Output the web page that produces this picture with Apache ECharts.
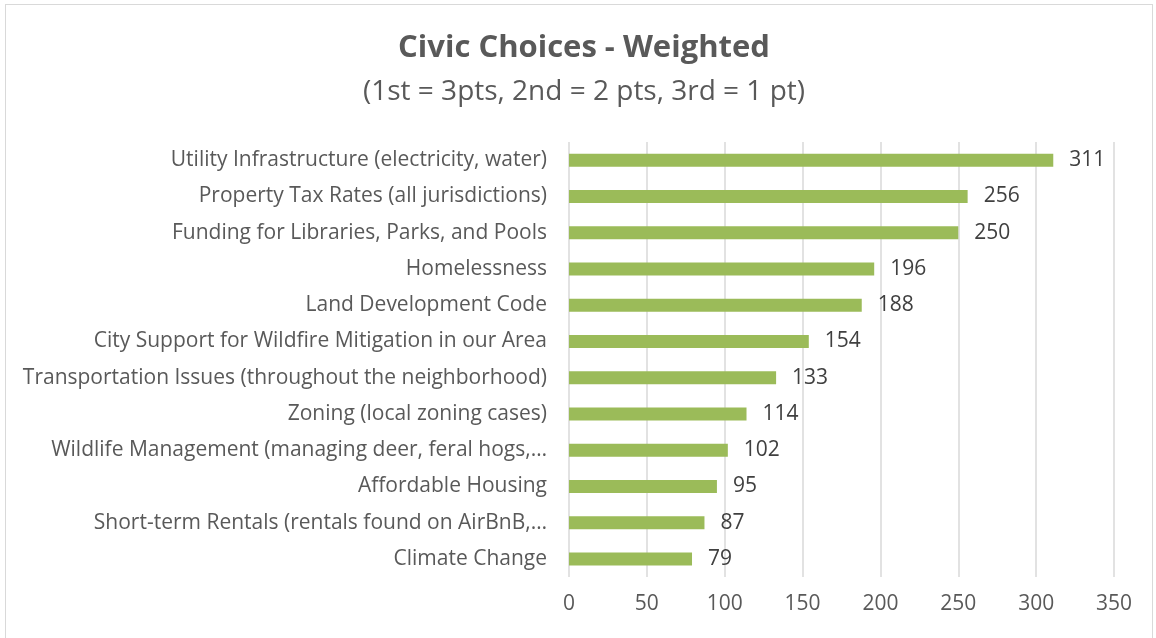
<!DOCTYPE html>
<html lang="en">
<head>
    <meta charset="UTF-8">
    <title>Civic Choices - Weighted</title>
    <script src="https://cdn.jsdelivr.net/npm/echarts@6/dist/echarts.min.js"></script>
    <style>
        html, body { margin: 0; padding: 0; background: #fff; }
        #frame {
            position: absolute;
            left: 5px; top: 4px;
            width: 1148px; height: 640px;
            border: 1px solid #d9d9d9;
            box-sizing: border-box;
        }
        #chart { width: 1156px; height: 638px; position: absolute; left: 0; top: 0; }
    </style>
</head>
<body>
<div id="frame"></div>
<div id="chart"></div>
<script>
    // categories, top to bottom as in the picture
    var categories = [
        'Utility Infrastructure (electricity, water)',
        'Property Tax Rates (all jurisdictions)',
        'Funding for Libraries, Parks, and Pools',
        'Homelessness',
        'Land Development Code',
        'City Support for Wildfire Mitigation in our Area',
        'Transportation Issues (throughout the neighborhood)',
        'Zoning (local zoning cases)',
        'Wildlife Management (managing deer, feral hogs,\u2026',
        'Affordable Housing',
        'Short-term Rentals (rentals found on AirBnB,\u2026',
        'Climate Change'
    ];
    var points = [311, 256, 250, 196, 188, 154, 133, 114, 102, 95, 87, 79];

    var font = '"Open Sans", sans-serif';
    var chart = echarts.init(document.getElementById('chart'));
    chart.setOption({
        animation: false,
        title: {
            text: 'Civic Choices - Weighted',
            subtext: '(1st = 3pts, 2nd = 2 pts, 3rd = 1 pt)',
            left: 579,
            textAlign: 'center',
            top: 28,
            itemGap: 14,
            textStyle: { fontFamily: font, fontSize: 31, fontWeight: 'bold', color: '#595959' },
            subtextStyle: { fontFamily: font, fontSize: 28, color: '#595959' }
        },
        grid: { left: 569, right: 42, top: 142, bottom: 61, containLabel: false },
        xAxis: {
            type: 'value',
            min: 0,
            max: 350,
            interval: 50,
            axisLine: { show: false },
            axisTick: { show: false },
            splitLine: { lineStyle: { color: '#d9d9d9', width: 1.5 } },
            axisLabel: { fontFamily: font, fontSize: 21, color: '#595959', margin: 17 }
        },
        yAxis: {
            type: 'category',
            inverse: true,
            data: categories,
            axisLine: { show: false },
            axisTick: { show: false },
            axisLabel: { fontFamily: font, fontSize: 21, color: '#595959', margin: 22 }
        },
        series: [{
            type: 'bar',
            data: points,
            barWidth: 13,
            itemStyle: { color: '#9bbb59' },
            label: {
                show: true,
                position: 'right',
                distance: 16,
                fontFamily: font,
                fontSize: 21,
                color: '#404040'
            }
        }]
    });
</script>
</body>
</html>
